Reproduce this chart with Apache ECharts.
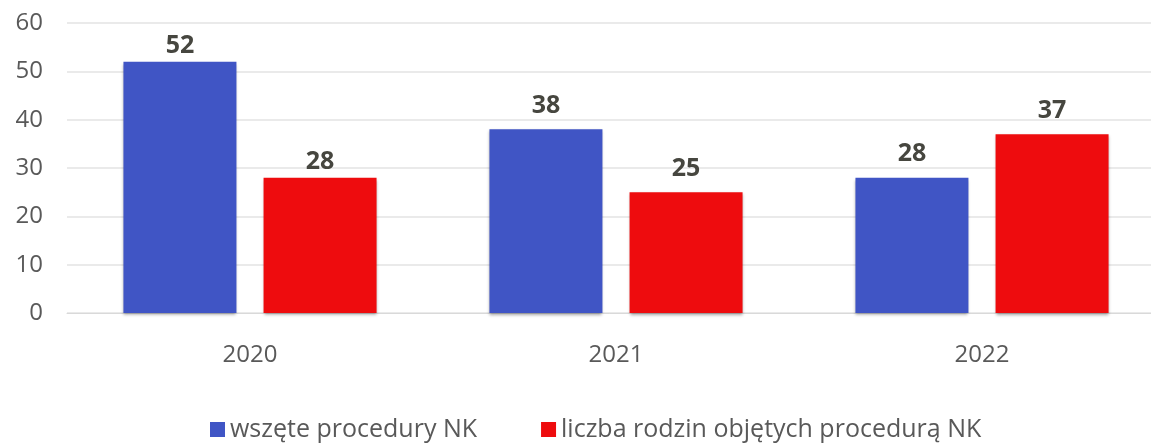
<!DOCTYPE html>
<html>
<head>
<meta charset="utf-8">
<script src="https://cdn.jsdelivr.net/npm/echarts@6/dist/echarts.min.js"></script>
<style>
  html, body { margin: 0; padding: 0; background: #fff; }
  #main { width: 1151px; height: 444px; }
</style>
</head>
<body>
<div id="main"></div>
<script>
var years = ["2020", "2021", "2022"];
var procedury = [52, 38, 28];
var rodziny = [28, 25, 37];
var yTicks = [0, 10, 20, 30, 40, 50, 60];
// labels sit a bit higher over the 2021/2022 bars in the original
var labelDistance = [3, 11, 11];

function withLabels(values) {
  return values.map(function(v, i) {
    return { value: v, label: { distance: labelDistance[i] } };
  });
}

var chart = echarts.init(document.getElementById("main"));
var labelStyle = {
  show: true,
  position: "top",
  color: "#46463f",
  fontWeight: "bold",
  fontSize: 25,
  fontFamily: "Open Sans"
};
chart.setOption({
  animation: false,
  textStyle: { fontFamily: "Open Sans" },
  legend: {
    left: 205,
    top: 412,
    itemWidth: 15,
    itemHeight: 15,
    itemGap: 64,
    icon: "rect",
    textStyle: { fontSize: 25, color: "#595959", fontFamily: "Open Sans" },
    data: ["wszęte procedury NK", "liczba rodzin objętych procedurą NK"]
  },
  grid: {
    left: 67,
    width: 1098,
    top: 23,
    height: 290,
    outerBoundsMode: "none"
  },
  xAxis: {
    type: "category",
    data: years,
    axisLine: { show: true, lineStyle: { color: "#d9d9d9" } },
    axisTick: { show: false },
    axisLabel: { fontSize: 24, color: "#595959", margin: 30 }
  },
  yAxis: {
    type: "value",
    min: yTicks[0],
    max: yTicks[yTicks.length - 1],
    interval: 10,
    axisLine: { show: false },
    axisTick: { show: false },
    axisLabel: { fontSize: 24, color: "#595959", margin: 24 },
    splitLine: { lineStyle: { color: "#e3e3e3", width: 1.5 } }
  },
  series: [
    {
      name: "wszęte procedury NK",
      type: "bar",
      data: withLabels(procedury),
      barWidth: 113,
      barGap: "24%",
      itemStyle: {
        color: "#4055c5",
        shadowColor: "rgba(0,0,0,0.35)",
        shadowBlur: 3,
        shadowOffsetY: 2
      },
      label: labelStyle
    },
    {
      name: "liczba rodzin objętych procedurą NK",
      type: "bar",
      data: withLabels(rodziny),
      barWidth: 113,
      itemStyle: {
        color: "#ee0c0e",
        shadowColor: "rgba(0,0,0,0.35)",
        shadowBlur: 3,
        shadowOffsetY: 2
      },
      label: labelStyle
    }
  ]
});
</script>
</body>
</html>
